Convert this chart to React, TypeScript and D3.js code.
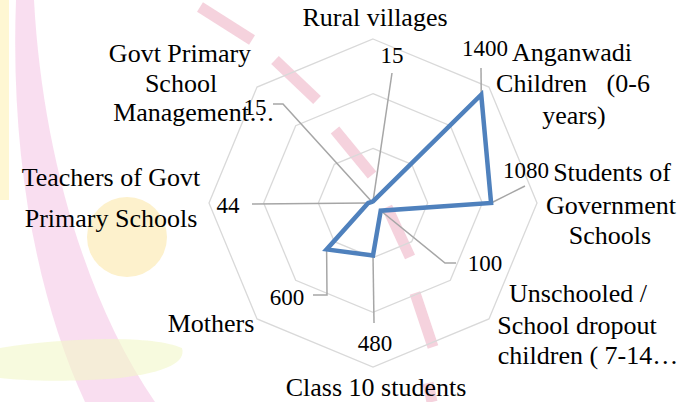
import React from "react";
import * as d3 from "d3";

// categories (clockwise from top) and their values
const categories = [
  "Rural villages",
  "Anganwadi Children (0-6 years)",
  "Students of Government Schools",
  "Unschooled / School dropout children ( 7-14 years)",
  "Class 10 students",
  "Mothers",
  "Teachers of Govt Primary Schools",
  "Govt Primary School Management Committee",
];
const values = [15, 1400, 1080, 100, 480, 600, 44, 15];
const ringTicks = [500, 1000, 1500];

// how the category names wrap on the chart (as Excel shows them)
const categoryLines = [
  ["Rural villages"],
  ["Anganwadi", "Children\u00a0\u00a0 (0-6", "years)"],
  ["Students of", "Government", "Schools"],
  ["Unschooled /", "School dropout", "children ( 7-14\u2026"],
  ["Class 10 students"],
  ["Mothers"],
  ["Teachers of Govt", "Primary Schools"],
  ["Govt Primary", "School", "Management\u2026"],
];

const W = 689;
const H = 402;
const cx = 373;
const cy = 203;
const outerR = 164;

// label placement: centre x, centre y of each line
const catLayout = [
  { x: [375], y: [17] },
  { x: [572, 573, 574], y: [52, 83, 115] },
  { x: [612, 611, 610], y: [172, 205, 235] },
  { x: [578, 577, 588], y: [293, 325, 355] },
  { x: [376], y: [387] },
  { x: [211], y: [323] },
  { x: [111, 111], y: [177, 218] },
  { x: [180, 181, 194], y: [53, 83, 112] },
];

// data label centre and leader-line bend points
const valueLayout = [
  { lx: 392, ly: 55, leader: [[392, 73]] },
  { lx: 485, ly: 48, leader: [[481, 68]] },
  { lx: 526, ly: 170, leader: [[525, 186]] },
  { lx: 485, ly: 263, leader: [[445, 263], [456, 263]] },
  { lx: 375, ly: 343, leader: [[374, 323]] },
  { lx: 287, ly: 297, leader: [[327, 295], [313, 295]] },
  { lx: 228, ly: 205, leader: [[252, 204]] },
  { lx: 255, ly: 107, leader: [[283, 104], [273, 104]] },
];

// slide background decoration
const dashes = [
  [[200, 7], [252, 40]],
  [[275, 60], [317, 100]],
  [[335, 130], [372, 175]],
  [[387, 207], [410, 257]],
  [[415, 293], [433, 347]],
  [[428, 383], [432, 402]],
];

const FONT = "Liberation Serif, serif";

const App = () => {
  const n = categories.length;
  const r = d3.scaleLinear().domain([0, 1500]).range([0, outerR]);
  const angle = (i: number) => (i * 2 * Math.PI) / n;
  const pos = (i: number, v: number): [number, number] => [
    cx + r(v) * Math.sin(angle(i)),
    cy - r(v) * Math.cos(angle(i)),
  ];
  const ring = d3
    .lineRadial<number>()
    .angle((_, i) => angle(i))
    .radius((d) => r(d))
    .curve(d3.curveLinearClosed);

  return (
    <svg
      width={W}
      height={H}
      fontFamily={FONT}
      style={{ position: "absolute", left: 0, top: 0, fontFamily: FONT }}
    >
      <rect width={W} height={H} fill="#fff" />

      {/* background decoration */}
      <g>
        <path
          d="M16,0 L34,0 C42,150 85,300 155,402 L85,402 C38,300 10,160 16,0 Z"
          fill="#f5c8e6"
          opacity={0.6}
        />
        <rect x={0} y={0} width={9} height={200} fill="#fdf3c0" opacity={0.7} />
        <path
          d="M0,348 C60,338 150,334 182,348 C186,362 168,372 120,378 C60,383 20,380 0,378 Z"
          fill="#f2f7c8"
          opacity={0.6}
        />
        <circle cx={127} cy={237} r={40} fill="#fdf1cc" />
        {dashes.map((d, i) => (
          <line
            key={i}
            x1={d[0][0]}
            y1={d[0][1]}
            x2={d[1][0]}
            y2={d[1][1]}
            stroke="#f2c3d2"
            strokeWidth={11}
            opacity={0.75}
          />
        ))}
      </g>

      {/* grid rings */}
      <g transform={`translate(${cx},${cy})`}>
        {ringTicks.map((t) => (
          <path
            key={t}
            d={ring(categories.map(() => t)) as string}
            fill="none"
            stroke="#d9d9d9"
            strokeWidth={1.3}
          />
        ))}
      </g>

      {/* leader lines */}
      <g>
        {values.map((v, i) => (
          <polyline
            key={i}
            points={[pos(i, v), ...valueLayout[i].leader].map((p) => p.join(",")).join(" ")}
            fill="none"
            stroke="#a6a6a6"
            strokeWidth={1.5}
          />
        ))}
      </g>

      {/* series */}
      <path
        transform={`translate(${cx},${cy})`}
        d={ring(values) as string}
        fill="none"
        stroke="#4f81bd"
        strokeWidth={4.5}
        strokeLinejoin="miter"
      />

      {/* value labels */}
      {values.map((v, i) => (
        <text
          key={i}
          x={valueLayout[i].lx}
          y={valueLayout[i].ly}
          dy="0.35em"
          fontFamily={FONT}
          fontSize={23}
          fill="#000"
          textAnchor="middle"
        >
          {v}
        </text>
      ))}

      {/* category labels */}
      {categoryLines.map((lines, i) =>
        lines.map((s, j) => (
          <text
            key={`${i}-${j}`}
            x={catLayout[i].x[j]}
            y={catLayout[i].y[j]}
            dy="0.35em"
            fontFamily={FONT}
            fontSize={26}
            fill="#000"
            textAnchor="middle"
          >
            {s}
          </text>
        ))
      )}
    </svg>
  );
};

export default App;
